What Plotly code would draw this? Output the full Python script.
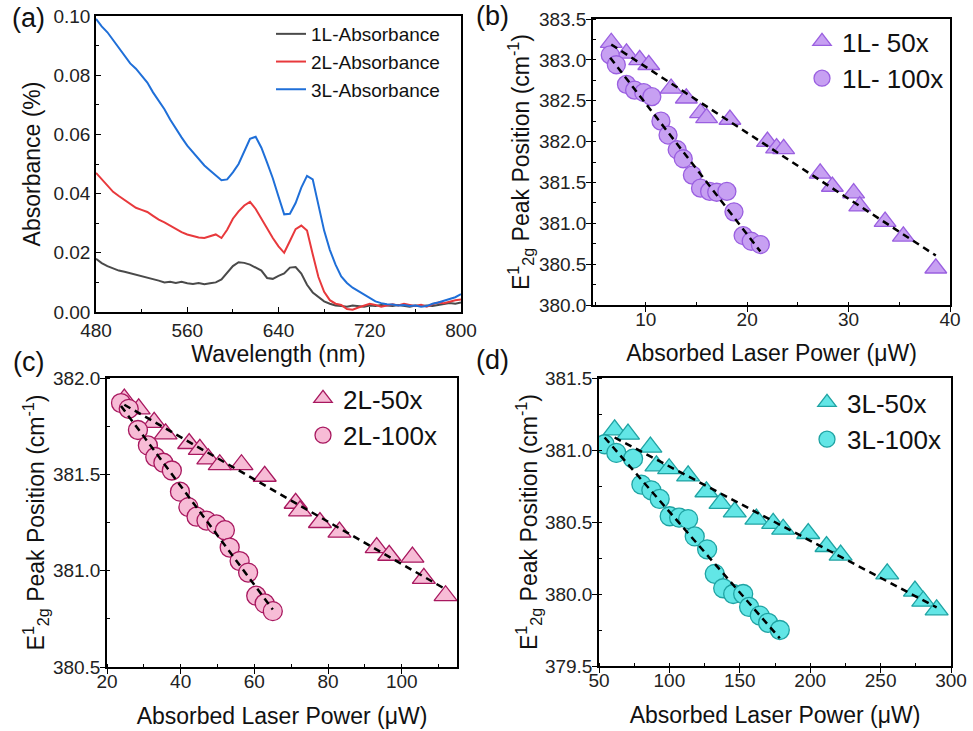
import numpy as np
import plotly.graph_objects as go

# ---------------- Panel (a): absorbance spectra ----------------
wavelength = list(range(480, 801, 5))
abs_1L = [0.0180, 0.0165, 0.0155, 0.0148, 0.0140, 0.0136, 0.0131, 0.0126, 0.0122, 0.0118,
          0.0112, 0.0106, 0.0100, 0.0102, 0.0098, 0.0102, 0.0097, 0.0095, 0.0098, 0.0094,
          0.0097, 0.0100, 0.0110, 0.0132, 0.0155, 0.0168, 0.0166, 0.0160, 0.0150, 0.0140,
          0.0115, 0.0112, 0.0122, 0.0130, 0.0150, 0.0152, 0.0130, 0.0092, 0.0066, 0.0050,
          0.0036, 0.0028, 0.0022, 0.0020, 0.0018, 0.0022, 0.0020, 0.0018, 0.0022, 0.0020,
          0.0024, 0.0022, 0.0020, 0.0024, 0.0020, 0.0018, 0.0022, 0.0020, 0.0022, 0.0020,
          0.0024, 0.0026, 0.0030, 0.0028, 0.0032]
abs_2L = [0.0470, 0.0448, 0.0425, 0.0406, 0.0392, 0.0378, 0.0366, 0.0352, 0.0345, 0.0338,
          0.0325, 0.0312, 0.0303, 0.0292, 0.0280, 0.0270, 0.0262, 0.0256, 0.0252, 0.0250,
          0.0256, 0.0262, 0.0250, 0.0278, 0.0315, 0.0340, 0.0360, 0.0372, 0.0348, 0.0315,
          0.0285, 0.0250, 0.0222, 0.0200, 0.0240, 0.0280, 0.0292, 0.0275, 0.0195, 0.0118,
          0.0068, 0.0040, 0.0028, 0.0024, 0.0010, 0.0008, 0.0015, 0.0022, 0.0028, 0.0024,
          0.0018, 0.0022, 0.0026, 0.0022, 0.0028, 0.0024, 0.0020, 0.0024, 0.0018, 0.0026,
          0.0032, 0.0030, 0.0036, 0.0040, 0.0042]
abs_3L = [0.0990, 0.0965, 0.0945, 0.0918, 0.0895, 0.0868, 0.0840, 0.0822, 0.0800, 0.0775,
          0.0742, 0.0712, 0.0685, 0.0650, 0.0618, 0.0590, 0.0562, 0.0540, 0.0518, 0.0495,
          0.0478, 0.0462, 0.0445, 0.0448, 0.0472, 0.0500, 0.0545, 0.0585, 0.0592, 0.0555,
          0.0505, 0.0452, 0.0390, 0.0330, 0.0332, 0.0368, 0.0420, 0.0460, 0.0448, 0.0360,
          0.0275, 0.0210, 0.0160, 0.0120, 0.0098, 0.0082, 0.0070, 0.0058, 0.0046, 0.0036,
          0.0030, 0.0026, 0.0025, 0.0022, 0.0024, 0.0020, 0.0022, 0.0018, 0.0020, 0.0028,
          0.0032, 0.0038, 0.0045, 0.0050, 0.0060]

# ---------------- Panel (b): 1L ----------------
p1L_50x = [6.6, 8.1, 9.4, 10.3, 12.5, 14.0, 15.4, 16.0, 18.3, 22.0, 22.9, 23.6, 27.2, 28.4, 30.5, 31.1, 33.6, 35.4, 38.6]
w1L_50x = [383.21, 383.08, 383.00, 382.94, 382.65, 382.53, 382.35, 382.29, 382.27, 382.00, 381.92, 381.91,
           381.61, 381.45, 381.37, 381.21, 381.02, 380.84, 380.45]
p1L_100x = [6.5, 7.1, 8.1, 8.9, 9.8, 10.6, 11.5, 12.2, 13.1, 13.7, 14.6, 15.4, 16.3, 17.0, 18.0, 18.7, 19.6, 20.4, 21.3]
w1L_100x = [383.06, 382.94, 382.70, 382.63, 382.60, 382.55, 382.25, 382.08, 381.90, 381.79, 381.59, 381.43,
            381.39, 381.38, 381.39, 381.14, 380.85, 380.78, 380.74]

# ---------------- Panel (c): 2L ----------------
p2L_50x = [24.7, 28.6, 32.8, 35.9, 42.3, 45.2, 47.5, 50.6, 56.5, 62.8, 71.2, 72.4, 77.8, 83.1, 93.2, 96.6, 102.9, 106.0, 111.9]
w2L_50x = [381.89, 381.84, 381.77, 381.71, 381.66, 381.63, 381.58, 381.55, 381.55, 381.49, 381.35, 381.31,
           381.25, 381.20, 381.12, 381.08, 381.07, 380.96, 380.87]
p2L_100x = [23.8, 25.9, 28.4, 31.1, 33.1, 35.3, 37.6, 39.8, 42.1, 44.3, 47.0, 49.7, 52.0, 53.3, 56.0, 58.3, 60.5, 62.8, 65.0]
w2L_100x = [381.87, 381.84, 381.73, 381.65, 381.59, 381.56, 381.52, 381.41, 381.33, 381.28, 381.26, 381.24,
            381.21, 381.12, 381.05, 380.99, 380.87, 380.83, 380.79]

# ---------------- Panel (d): 3L ----------------
p3L_50x = [61.1, 70.6, 86.5, 90.8, 99.8, 113.3, 126.3, 136.3, 146.4, 161.8, 173.7, 180.8, 198.6, 211.6, 221.6,
           254.7, 274.4, 280.3, 289.8]
w3L_50x = [381.14, 381.11, 381.02, 380.89, 380.87, 380.82, 380.71, 380.63, 380.57, 380.52, 380.49, 380.45,
           380.42, 380.33, 380.27, 380.14, 380.02, 379.95, 379.89]
p3L_100x = [54.0, 62.3, 74.2, 80.1, 87.2, 93.1, 100.2, 106.9, 113.3, 118.0, 126.8, 132.2, 138.2, 145.3, 152.4,
            156.6, 164.2, 170.1, 178.4]
w3L_100x = [381.04, 380.98, 380.94, 380.76, 380.72, 380.66, 380.54, 380.53, 380.52, 380.40, 380.31, 380.14,
            380.04, 380.00, 380.00, 379.91, 379.85, 379.80, 379.75]

FONT = "Arial, Liberation Sans, sans-serif"
W, H = 973, 731

fig = go.Figure()

# panel (a)
for y, name, col, in [(abs_1L, "1L-Absorbance", "#4a4a4a"),
                      (abs_2L, "2L-Absorbance", "#e8393c"),
                      (abs_3L, "3L-Absorbance", "#1f6fd8")]:
    fig.add_trace(go.Scatter(x=wavelength, y=y, mode="lines", name=name,
                             line=dict(color=col, width=2), xaxis="x", yaxis="y", legend="legend"))

def add_panel(xa, ya, leg, p50, w50, p100, w100, lab50, lab100, fill, edge, tri_size, circ_size):
    fig.add_trace(go.Scatter(x=p50, y=w50, mode="markers", name=lab50, xaxis=xa, yaxis=ya, legend=leg,
                             marker=dict(symbol="triangle-up", size=tri_size, color=fill,
                                         line=dict(color=edge, width=1.3))))
    fig.add_trace(go.Scatter(x=p100, y=w100, mode="markers", name=lab100, xaxis=xa, yaxis=ya, legend=leg,
                             marker=dict(symbol="circle", size=circ_size, color=fill,
                                         line=dict(color=edge, width=1.3))))
    for px, wy in [(p50, w50), (p100, w100)]:
        k, b = np.polyfit(px, wy, 1)
        xs = np.array([min(px), max(px)])
        fig.add_trace(go.Scatter(x=xs, y=k * xs + b, mode="lines", showlegend=False,
                                 xaxis=xa, yaxis=ya,
                                 line=dict(color="black", width=2.5, dash="7px,5px")))

add_panel("x2", "y2", "legend2", p1L_50x, w1L_50x, p1L_100x, w1L_100x, "1L- 50x", "1L- 100x",
          "#c7a0f2", "#9a5fe0", 19, 18)
add_panel("x3", "y3", "legend3", p2L_50x, w2L_50x, p2L_100x, w2L_100x, "2L-50x", "2L-100x",
          "#f7bcd6", "#a8185f", 20, 19)
add_panel("x4", "y4", "legend4", p3L_50x, w3L_50x, p3L_100x, w3L_100x, "3L-50x", "3L-100x",
          "#62e6e6", "#1fa3a3", 20, 19)

def px2x(p):
    return p / W

def px2y(p):
    return 1 - p / H

def axis(domain, rng, dtick, mdtick, anchor, title, ticks, tickformat=None, standoff=8, lab_standoff=0):
    d = dict(domain=domain, range=rng, dtick=dtick, tick0=0, anchor=anchor, automargin=False,
             showline=True, linecolor="black", linewidth=1.5, mirror=True,
             ticks=ticks, ticklen=5, tickwidth=1.3, tickcolor="black",
             ticklabelstandoff=lab_standoff,
             minor=dict(dtick=mdtick, ticks="inside", ticklen=3, tickwidth=1.2, tickcolor="black"),
             showgrid=False, zeroline=False,
             tickfont=dict(family=FONT, size=19, color="#222"),
             title=dict(text=title, font=dict(family=FONT, size=23, color="#111"), standoff=standoff))
    if tickformat:
        d["tickformat"] = tickformat
    return d

YT = "E<sup>1</sup><sub>2g</sub> Peak Position (cm<sup>-1</sup>)"
XT = "Absorbed Laser Power (μW)"

layout = dict(
    width=W, height=H, margin=dict(l=0, r=0, t=0, b=0, autoexpand=False),
    paper_bgcolor="white", plot_bgcolor="white",
    font=dict(family=FONT, color="#111"),
    xaxis=axis([px2x(96), px2x(461)], [480, 800], 80, 40, "y", "Wavelength (nm)", "inside", standoff=6),
    yaxis=axis([px2y(312), px2y(16)], [0, 0.10], 0.02, 0.01, "x", "Absorbance (%)", "inside", ".2f", standoff=6),
    xaxis2=axis([px2x(593), px2x(950)], [4.8, 40], 10, 5, "y2", XT, "outside", standoff=16, lab_standoff=-9),
    yaxis2=axis([px2y(305), px2y(19)], [380, 383.5], 0.5, 0.25, "x2", YT, "outside", ".1f",
                standoff=3, lab_standoff=-4),
    xaxis3=axis([px2x(107), px2x(457)], [20, 115], 20, 10, "y3", XT, "outside", standoff=17, lab_standoff=-9),
    yaxis3=axis([px2y(667), px2y(378)], [380.5, 382.0], 0.5, 0.25, "x3", YT, "outside", ".1f",
                standoff=2, lab_standoff=-4),
    xaxis4=axis([px2x(599), px2x(951)], [50, 300], 50, 25, "y4", XT, "outside", standoff=17, lab_standoff=-9),
    yaxis4=axis([px2y(666), px2y(378)], [379.5, 381.5], 0.5, 0.25, "x4", YT, "outside", ".1f",
                standoff=0, lab_standoff=-4),
    legend=dict(x=px2x(271), y=px2y(15), xanchor="left", yanchor="top", bgcolor="rgba(0,0,0,0)",
                font=dict(family=FONT, size=19, color="#111"), tracegroupgap=0),
    legend2=dict(x=px2x(802), y=px2y(18), xanchor="left", yanchor="top", bgcolor="rgba(0,0,0,0)",
                 font=dict(family=FONT, size=26, color="#111")),
    legend3=dict(x=px2x(303), y=px2y(375), xanchor="left", yanchor="top", bgcolor="rgba(0,0,0,0)",
                 font=dict(family=FONT, size=26, color="#111")),
    legend4=dict(x=px2x(807), y=px2y(379), xanchor="left", yanchor="top", bgcolor="rgba(0,0,0,0)",
                 font=dict(family=FONT, size=26, color="#111")),
    annotations=[
        dict(text=t, x=px2x(cx), y=px2y(cy), xref="paper", yref="paper", showarrow=False,
             xanchor="center", yanchor="middle", font=dict(family=FONT, size=27, color="#111"))
        for t, cx, cy in [("(a)", 28, 18), ("(b)", 492, 16), ("(c)", 28, 362), ("(d)", 492, 360)]
    ],
)
fig.update_layout(**layout)
fig.write_html("out.html", config={"displayModeBar": False},
               post_script="document.body.style.margin='0';document.body.style.overflow='hidden';")
